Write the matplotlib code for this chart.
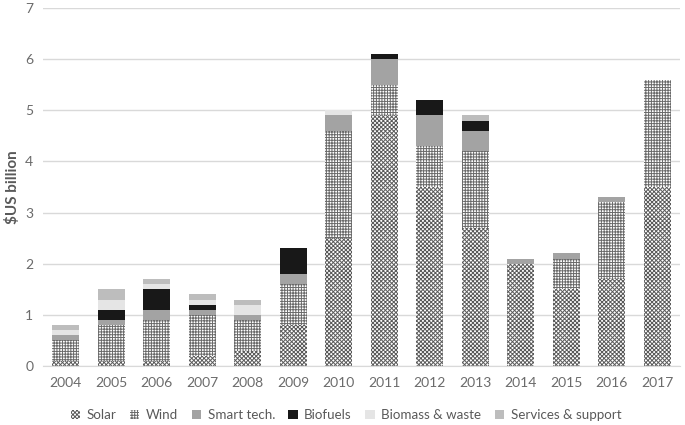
import matplotlib
matplotlib.use("Agg")
import matplotlib.pyplot as plt
import numpy as np
from matplotlib.patches import Patch

plt.rcParams['font.family'] = ['Lato', 'DejaVu Sans']
plt.rcParams['hatch.linewidth'] = 0.7

years = ['2004', '2005', '2006', '2007', '2008', '2009', '2010', '2011', '2012', '2013', '2014', '2015', '2016', '2017']
solar    = [0.1, 0.1, 0.1, 0.2, 0.3, 0.8, 2.5, 4.9, 3.5, 2.7, 2.0, 1.5, 1.7, 3.5]
wind     = [0.4, 0.7, 0.8, 0.8, 0.6, 0.8, 2.1, 0.6, 0.8, 1.5, 0.0, 0.6, 1.5, 2.1]
smart    = [0.1, 0.1, 0.2, 0.1, 0.1, 0.2, 0.3, 0.5, 0.6, 0.4, 0.1, 0.1, 0.1, 0.0]
biofuels = [0.0, 0.2, 0.4, 0.1, 0.0, 0.5, 0.0, 0.1, 0.3, 0.2, 0.0, 0.0, 0.0, 0.0]
biomass  = [0.1, 0.2, 0.1, 0.1, 0.2, 0.0, 0.1, 0.0, 0.0, 0.0, 0.0, 0.0, 0.0, 0.0]
services = [0.1, 0.2, 0.1, 0.1, 0.1, 0.0, 0.0, 0.0, 0.0, 0.1, 0.0, 0.0, 0.0, 0.0]

series = [
    ('Solar', solar, dict(facecolor='white', edgecolor='#5a5a5a', hatch='xxxxxxxx')),
    ('Wind', wind, dict(facecolor='white', edgecolor='#6a6a6a', hatch='++++++')),
    ('Smart tech.', smart, dict(facecolor='#a3a3a3', edgecolor='#a3a3a3')),
    ('Biofuels', biofuels, dict(facecolor='#181818', edgecolor='#181818')),
    ('Biomass & waste', biomass, dict(facecolor='#e5e5e5', edgecolor='#e5e5e5')),
    ('Services & support', services, dict(facecolor='#bdbdbd', edgecolor='#bdbdbd')),
]

fig = plt.figure(figsize=(6.85, 4.25), dpi=100)
ax = fig.add_axes([43/685, 1 - 366/425, (680-43)/685, (366-8)/425])

x = np.arange(len(years))
bottom = np.zeros(len(years))
handles = []
for name, vals, style in series:
    v = np.array(vals)
    ax.bar(x, v, 0.6, bottom=bottom, linewidth=0, **style)
    bottom += v
    handles.append(Patch(label=name, linewidth=0, **style))

ax.set_ylim(0, 7)
ax.set_xlim(-0.5, len(years) - 0.5)
ax.set_yticks(range(0, 8))
ax.set_xticks(x)
ax.set_xticklabels(years)
ax.yaxis.grid(True, color='#d9d9d9', linewidth=1)
ax.set_axisbelow(True)
for s in ['top', 'right', 'left']:
    ax.spines[s].set_visible(False)
ax.spines['bottom'].set_color('#d9d9d9')
ax.tick_params(axis='both', length=0, colors='#6b6b6b', labelsize=10)
ax.tick_params(axis='x', pad=8)
ax.tick_params(axis='y', pad=7)
ax.set_ylabel('$US billion', fontsize=11, fontweight='bold', color='#595959', labelpad=4)

fig.legend(handles=handles, loc='center', bbox_to_anchor=(0.505, 1 - 415/425), ncol=6,
           frameon=False, fontsize=9.6, handlelength=0.7, handleheight=0.7, handletextpad=0.5,
           columnspacing=1.0, labelcolor='#595959')

fig.savefig('out.png', dpi=100)
